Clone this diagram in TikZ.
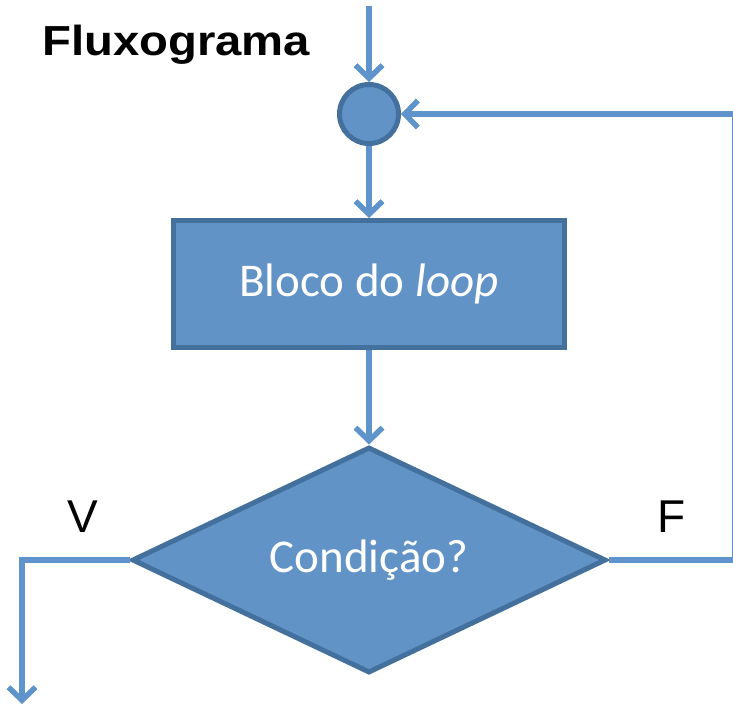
\documentclass[tikz,border=0pt]{standalone}
\usepackage{fontspec}
\setmainfont{Carlito}
\newfontfamily\arialf{Liberation Sans}
\usetikzlibrary{arrows.meta,shapes.geometric}
\definecolor{shapefill}{RGB}{97,147,199}
\definecolor{shapeedge}{RGB}{68,112,158}
\definecolor{linecol}{RGB}{94,148,203}
\tikzset{
  conn/.style={draw=linecol, line width=5.5pt, line cap=butt, line join=miter,
    -{Straight Barb[length=13pt,width=27pt,line width=5.5pt]}},
  shapebox/.style={draw=shapeedge, fill=shapefill, line width=5pt, text=white,
    font=\fontsize{47}{52}\selectfont},
  lbl/.style={font=\arialf\fontsize{46}{52}\selectfont, text=black, inner sep=0pt}
}
\begin{document}
\begin{tikzpicture}[x=1pt,y=-1pt]
\useasboundingbox (0,0) rectangle (733,705);
\clip (0,0) rectangle (733,705);
\node[anchor=base west, inner sep=0pt, xscale=1.125,
      font=\arialf\bfseries\fontsize{42}{46}\selectfont] (title) at (42,55) {Fluxograma};
\node[shapebox, circle, minimum size=59pt, inner sep=0pt] (circ) at (369,114) {};
\node[shapebox, rectangle, minimum width=391pt, minimum height=127pt, inner sep=0pt] (box) at (369,284) {Bloco do \textit{loop}};
\node[shapebox, diamond, aspect=2.08, minimum width=474pt, minimum height=226pt, inner sep=0pt] (dia) at (369,560) {Condição?};
\coordinate (topin) at (369,6);
\coordinate (vend) at (22,704);
\coordinate (rc) at (735,560);
\draw[conn] (topin) -- (circ.north);
\draw[conn] (circ.south) -- (box.north);
\draw[conn] (box.south) -- (dia.north);
\draw[conn] (dia.west) -| (vend);
\draw[conn] (dia.east) -- (rc) |- (circ.east);
\node[lbl] (vlab) at (83,517) {V};
\node[lbl] (flab) at (672,517) {F};
\end{tikzpicture}
\end{document}
